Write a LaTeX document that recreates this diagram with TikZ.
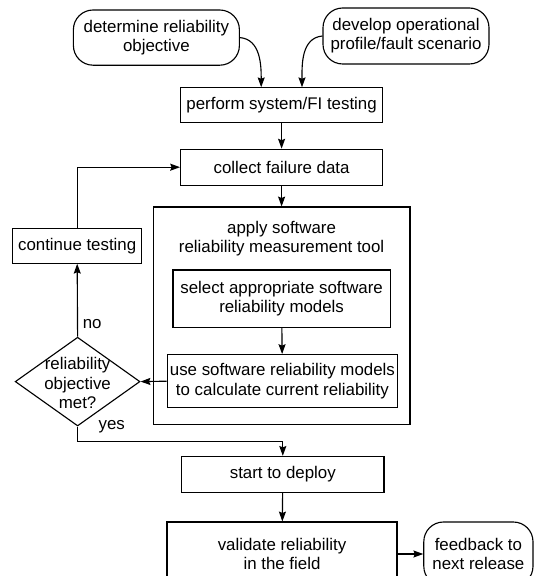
\documentclass[tikz,border=0pt]{standalone}
\usepackage{fontspec}
\setmainfont{Liberation Sans}
\usetikzlibrary{arrows.meta,positioning,calc,shapes.geometric}

\begin{document}
\begin{tikzpicture}[
  >={Stealth[length=7pt,width=5pt,inset=1pt]},
  every node/.style={font=\fontsize{12}{13.7}\selectfont},
  boxstep/.style={draw, line width=0.8pt, align=center, inner sep=0pt},
  roundstep/.style={boxstep, rounded corners=14pt},
  decide/.style={draw, diamond, line width=0.8pt, inner sep=0pt, minimum width=3.12cm, minimum height=2.22cm},
  plain/.style={align=center},
  arr/.style={->,line width=0.8pt}
]
\useasboundingbox (0,0) rectangle (13.35,14.4);
\clip (0,0) rectangle (13.35,14.4);
% inputs
\node[roundstep, minimum width=4.15cm, minimum height=1.38cm] (obj) at (3.91,13.46) {determine reliability\\objective};
\node[roundstep, minimum width=4.15cm, minimum height=1.40cm] (prof) at (10.15,13.50) {develop operational\\profile/fault scenario};
% main column
\node[boxstep, minimum width=5.05cm, minimum height=0.87cm] (perform) at (7.04,11.77) {perform system/FI testing};
\node[boxstep, minimum width=5.05cm, minimum height=0.90cm] (collect) at (7.04,10.22) {collect failure data};
\node[boxstep, minimum width=6.42cm, minimum height=5.43cm] (apply) at (7.04,6.51) {};
\node[plain] (applytitle) at (7.04,8.44) {apply software\\reliability measurement tool};
\node[boxstep, minimum width=5.43cm, minimum height=1.44cm] (select) at (7.04,6.93) {select appropriate software\\reliability models};
\node[boxstep, minimum width=5.76cm, minimum height=1.33cm] (use) at (7.06,4.87) {use software reliability models\\to calculate current reliability};
\node[boxstep, minimum width=5.06cm, minimum height=0.90cm] (start) at (7.07,2.54) {start to deploy};
\node[boxstep, minimum width=5.75cm, minimum height=1.60cm] (validate) at (7.05,0.55) {validate reliability\\in the field};
\node[roundstep, minimum width=2.73cm, minimum height=1.60cm] (feedback) at (11.96,0.55) {feedback to\\next release};
% loop back
\node[boxstep, minimum width=3.22cm, minimum height=0.86cm] (cont) at (1.93,8.25) {continue testing};
\node[decide] (dia) at (1.94,4.86) {};
\node[plain] (diatext) at (1.94,4.82) {reliability\\objective\\met?};
\node[right=0.4cm of dia.south] (yes) {yes};
\draw[arr] (obj.east) to[out=-5,in=90] ($(perform.north)+(-0.51,0)$);
\draw[arr] (prof.west) to[out=185,in=90] ($(perform.north)+(0.51,0)$);
\draw[arr] (perform) -- (collect);
\draw[arr] (collect) -- (apply);
\draw[arr] (select) -- (use);
\draw[arr] (use.west) -- (dia.east);
\draw[arr] (dia.north) -- node[right, pos=0.17] (no) {no} (cont.south);
\draw[arr] (cont.north) |- (collect.west);
\draw[arr] (dia.south) -- ++(0,-0.38) -| (start.north);
\draw[arr] (start) -- (validate);
\draw[arr] (validate.east) -- (feedback.west);
\end{tikzpicture}
\end{document}
